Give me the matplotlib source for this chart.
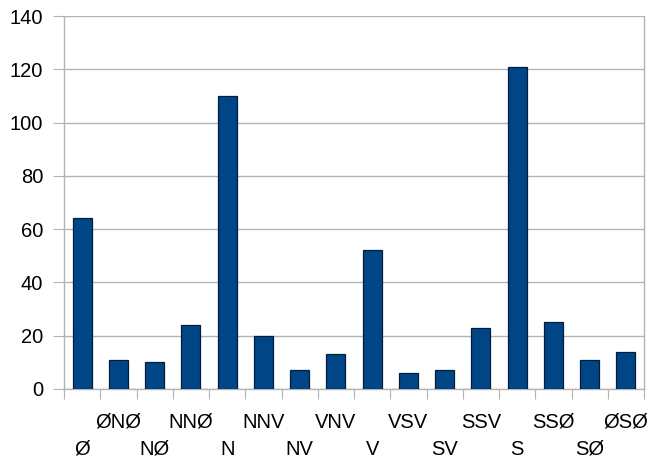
import matplotlib
matplotlib.use("Agg")
import matplotlib.pyplot as plt
import numpy as np

plt.rcParams['font.family'] = ['Liberation Sans', 'DejaVu Sans']

categories = ["Ø", "ØNØ", "NØ", "NNØ", "N", "NNV", "NV", "VNV", "V", "VSV", "SV", "SSV", "S", "SSØ", "SØ", "ØSØ"]
values = [64, 11, 10, 24, 110, 20, 7, 13, 52, 6, 7, 23, 121, 25, 11, 14]
yticks = [0, 20, 40, 60, 80, 100, 120, 140]

fig = plt.figure(figsize=(6.51, 4.63), dpi=100)
ax = fig.add_axes([64/651, 74/463, 580/651, 373/463])

x = np.arange(len(categories))
ax.bar(x, values, width=0.52, color="#004586", edgecolor="#001e3c", linewidth=0.9, zorder=3)

ax.set_xlim(-0.5, len(categories) - 0.5)
ax.set_ylim(0, 140)
ax.set_yticks(yticks)
ax.grid(axis='y', color="#b3b3b3", linewidth=1, zorder=0)

grey = "#b3b3b3"
for s in ['left', 'right', 'bottom']:
    ax.spines[s].set_color(grey)
    ax.spines[s].set_linewidth(1)
ax.spines['top'].set_visible(False)

ax.tick_params(axis='y', length=8, color=grey, labelsize=14.5, pad=7)

# boundary tick marks
ax.set_xticks(np.arange(len(categories) + 1) - 0.5)
ax.set_xticklabels([])
ax.tick_params(axis='x', which='major', length=7.5, color=grey)

# odd labels (upper row) as minor ticks
odd = x[1::2]
ax.set_xticks(odd, minor=True)
ax.set_xticklabels([categories[i] for i in odd], minor=True)
ax.tick_params(axis='x', which='minor', length=0, labelsize=14.5, pad=17)

# even labels (lower row) via secondary axis
sec = ax.secondary_xaxis('bottom')
even = x[0::2]
sec.set_xticks(even)
sec.set_xticklabels([categories[i] for i in even])
sec.tick_params(axis='x', length=0, labelsize=14.5, pad=36.5)
sec.spines['bottom'].set_visible(False)

fig.savefig("out.png", dpi=100)
